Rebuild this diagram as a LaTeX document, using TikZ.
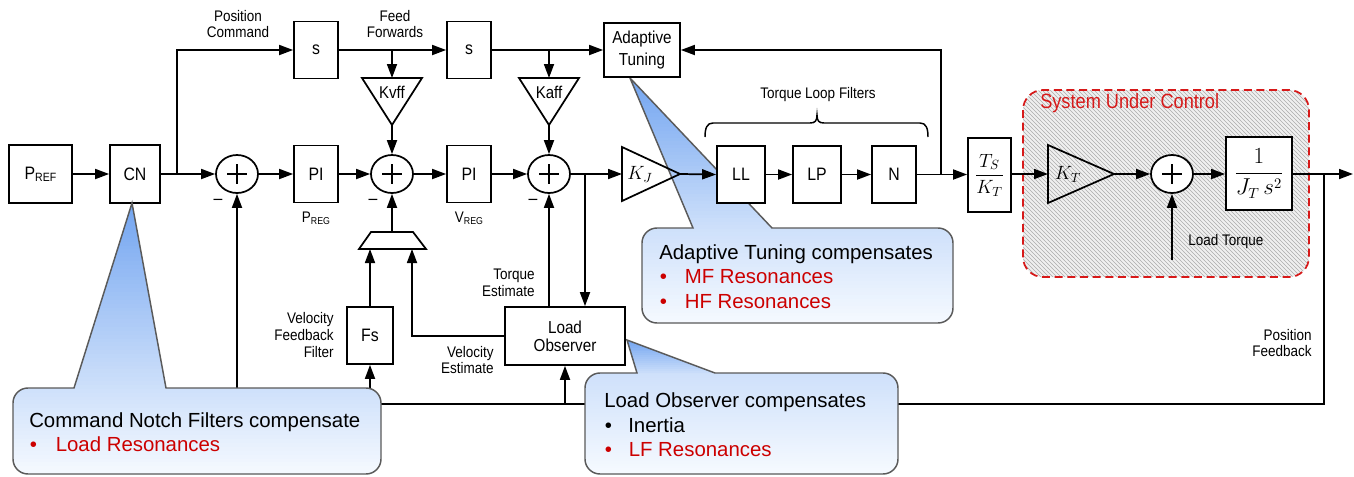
\documentclass[tikz,border=0pt]{standalone}
\usepackage{fontspec}
\setmainfont{Liberation Sans}
\newfontfamily\narrowsans[FakeStretch=0.88]{Liberation Sans}
\usetikzlibrary{arrows.meta,shapes.geometric,patterns}
\definecolor{cblue}{RGB}{115,165,240}
\definecolor{cpale}{RGB}{246,250,255}
\definecolor{cred}{RGB}{204,0,0}
\definecolor{dred}{RGB}{215,25,25}
\definecolor{cgray}{RGB}{90,90,90}
\newcommand\blkfont{\narrowsans\fontsize{13.5}{15}\selectfont}
\newcommand\lblfont{\narrowsans\fontsize{11.5}{12.4}\selectfont}
\newcommand\cofont{\fontsize{15.3}{18}\selectfont}
\newcommand\subf[2]{{\fontsize{#1}{#1}\selectfont\raisebox{-0.3ex}{#2}}}
% gradient-filled callout: #1 path, #2 tip y, #3 body top y, #4 bottom y
\newcommand\calloutshape[4]{%
  \begin{scope}
    \clip #1;
    \foreach \i in {0,...,69}{%
      \pgfmathsetmacro\ya{#2+(#4-#2)*(\i/70)}%
      \pgfmathsetmacro\yb{#2+(#4-#2)*((\i+1)/70)+0.6}%
      \pgfmathsetmacro\pa{100-70*((\ya-#2)/(#3-#2))}%
      \pgfmathsetmacro\pb{30-30*((\ya-#3)/(#4-#3))}%
      \pgfmathsetmacro\pc{\ya<#3 ? \pa : \pb}%
      \fill[cblue!\pc!cpale] (0,\ya) rectangle (1354,\yb);
    }
  \end{scope}
  \draw[cgray,line width=1.1pt] #1;
}
\begin{document}
\begin{tikzpicture}[x=0.75pt,y=-0.75pt,
  ln/.style={line width=1.3pt},
  arr/.style={line width=1.3pt,-{Triangle[length=10.5pt,width=7.5pt]}},
  blk/.style={draw,line width=1.3pt,fill=white,inner sep=0pt,font=\blkfont,align=center},
  sumj/.style={draw,ellipse,line width=1.3pt,fill=white,minimum width=31.5pt,minimum height=28.5pt,inner sep=0pt},
  lbl/.style={font=\lblfont,inner sep=0pt},
  ctext/.style={font=\cofont,anchor=base west,inner sep=0pt},
]
\fill[white] (0,0) rectangle (1354,476);
\useasboundingbox (0,0) rectangle (1354,476);

% Adaptive tuning callout (behind the diagram)
\calloutshape{(630,78) -- (772,228) -- (938,228) .. controls (946.3,228) and (953,234.7) .. (953,243) -- (953,308) .. controls (953,316.3) and (946.3,323) .. (938,323) -- (657,323) .. controls (648.7,323) and (642,316.3) .. (642,308) -- (642,243) .. controls (642,234.7) and (648.7,228) .. (657,228) -- (693,228) -- cycle}{78}{228}{323}
\node[ctext] (att) at (659,259) {Adaptive Tuning compensates};
\node[ctext,text=cred] (atb1) at (659.5,283) {•};
\node[ctext,text=cred] (atr1) at (684.5,283) {MF Resonances};
\node[ctext,text=cred] (atb2) at (659.5,308) {•};
\node[ctext,text=cred] (atr2) at (684.5,308) {HF Resonances};

% System under control area
\fill[gray!12, rounded corners=15pt] (1023,90) rectangle (1309,277);
\fill[pattern=north west lines, pattern color=gray!65, rounded corners=15pt] (1023,90) rectangle (1309,277);
\draw[dred, line width=1.3pt, dash pattern=on 6pt off 3.5pt, rounded corners=15pt] (1023,90) rectangle (1309,277);
\node[anchor=west,inner sep=0pt,text=dred,font=\narrowsans\fontsize{15.5}{17}\selectfont] (suc) at (1040,103) {System Under Control};

% blocks
\node[blk,minimum width=47.25pt,minimum height=43.5pt] (pref) at (40.5,174) {P\subf{9}{REF}};
\node[blk,minimum width=37.5pt,minimum height=43.5pt] (cn) at (135,174) {CN};
\node[blk,minimum width=33pt,minimum height=42.75pt] (s1) at (316,50) {s};
\node[blk,minimum width=33pt,minimum height=42.75pt] (pi1) at (316,174) {PI};
\node[blk,minimum width=33pt,minimum height=42.75pt] (s2) at (469,50) {s};
\node[blk,minimum width=33pt,minimum height=42.75pt] (pi2) at (469,174) {PI};
\node[blk,minimum width=57pt,minimum height=40.5pt,font=\narrowsans\fontsize{13}{16}\selectfont] (adapt) at (642,50) {Adaptive\\Tuning};
\node[blk,minimum width=36pt,minimum height=42.75pt] (ll) at (741,174.5) {LL};
\node[blk,minimum width=36pt,minimum height=42.75pt] (lp) at (817,174.5) {LP};
\node[blk,minimum width=33pt,minimum height=42.75pt] (nn) at (894,174.5) {N};
\node[blk,minimum width=32.25pt,minimum height=55.5pt,font=\fontsize{14}{16}\selectfont] (tk) at (989.5,175) {$\displaystyle\frac{T_S}{K_T}$};
\node[blk,minimum width=49.5pt,minimum height=54.75pt,font=\fontsize{16}{18}\selectfont] (jts) at (1259,173.5) {$\displaystyle\frac{1}{J_T\,s^{2}}$};
\node[blk,minimum width=34.5pt,minimum height=42.75pt] (fs) at (370,335.5) {Fs};
\node[blk,minimum width=90pt,minimum height=43.5pt,font=\narrowsans\fontsize{13}{13.5}\selectfont] (lo) at (565,336) {Load\\Observer};

% summing junctions
\node[sumj] (sa) at (237,174) {};
\node[sumj] (sb) at (392,174) {};
\node[sumj] (sc) at (549,174) {};
\node[sumj] (sd) at (1172,174) {};
\foreach \n in {sa,sb,sc,sd}
  \draw[line width=1.1pt] (\n.center) +(-10,0) -- +(10,0) +(0,-10) -- +(0,10);
\node[font=\blkfont,inner sep=0pt] (m1) at (218,202) {–};
\node[font=\blkfont,inner sep=0pt] (m2) at (373,202) {–};
\node[font=\blkfont,inner sep=0pt] (m3) at (533,202) {–};

% gain triangles
\draw[ln] (362,78) -- (422,78) -- (392,125) -- cycle;
\coordinate (kvffT) at (392,78); \coordinate (kvffB) at (392,125);
\node[inner sep=0pt,font=\narrowsans\fontsize{12.8}{14}\selectfont] (kvff) at (392,92) {Kvff};
\draw[ln] (519,78) -- (579,78) -- (549,125) -- cycle;
\coordinate (kaffT) at (549,78); \coordinate (kaffB) at (549,125);
\node[inner sep=0pt,font=\narrowsans\fontsize{12.8}{14}\selectfont] (kaff) at (549,92) {Kaff};
\draw[ln] (622,147) -- (622,201) -- (680,174) -- cycle;
\coordinate (kjIn) at (622,174); \coordinate (kjOut) at (680,174);
\node[inner sep=0pt,font=\fontsize{14}{16}\selectfont] (kj) at (640,174) {$K_J$};
\draw[ln] (1048,145) -- (1048,203) -- (1114,174) -- cycle;
\coordinate (ktIn) at (1048,174); \coordinate (ktOut) at (1114,174);
\node[inner sep=0pt,font=\fontsize{14}{16}\selectfont] (kt) at (1068,174) {$K_T$};

% trapezoid (selector)
\draw[ln] (359,249) -- (426,249) -- (413,232) -- (371,232) -- cycle;
\coordinate (trIn1) at (370,249); \coordinate (trIn2) at (412,249); \coordinate (trOut) at (392,232);

% bracket
\draw[line width=1.1pt] (705,137) .. controls (705,128) and (707,123) .. (713,123) -- (810,123) .. controls (815,123) and (817,121) .. (817,115) .. controls (817,121) and (819,123) .. (824,123) -- (920,123) .. controls (926,123) and (928,128) .. (928,137);

% connectors
\coordinate (br1) at (177,174);
\coordinate (b2) at (392,50);
\coordinate (b3) at (549,50);
\coordinate (loIn) at (585,174);
\coordinate (atb) at (941,174);
\coordinate (fbR) at (1324,174);
\coordinate (fbB) at (1324,404);
\coordinate (fbL) at (237,404);
\coordinate (fbFs) at (370,404);
\coordinate (fbLo) at (565,404);
\coordinate (outE) at (1353,174);
\coordinate (ltq) at (1172,260);

\draw[arr] (pref) -- (cn);
\draw[arr] (cn.east) -- (sa.west);
\draw[arr] (br1) |- (s1.west);
\draw[arr] (sa.east) -- (pi1.west);
\draw[arr] (pi1.east) -- (sb.west);
\draw[arr] (sb.east) -- (pi2.west);
\draw[arr] (pi2.east) -- (sc.west);
\draw[arr] (sc.east) -- (kjIn);
\draw[arr] (kjOut) -- (ll.west);
\draw[arr] (ll) -- (lp);
\draw[arr] (lp) -- (nn);
\draw[arr] (nn.east) -- (tk.west |- nn.east);
\draw[arr] (atb) |- (adapt.east);
\draw[arr] (s1) -- (s2);
\draw[arr] (s2.east) -- (adapt.west |- s2.east);
\draw[arr] (b2) -- (kvffT);
\draw[arr] (kvffB) -- (sb.north);
\draw[arr] (b3) -- (kaffT);
\draw[arr] (kaffB) -- (sc.north);
\draw[arr] (tk.east |- ktIn) -- (ktIn);
\draw[arr] (ktOut) -- (sd.west);
\draw[arr] (sd.east) -- (jts.west |- sd.east);
\draw[arr] (jts.east |- outE) -- (outE);
\draw[arr] (ltq) -- (sd.south);
\draw[ln] (fbR) -- (fbB) -- (fbL);
\draw[arr] (fbL) -- (sa.south);
\draw[arr] (fbFs) -- (fs.south);
\draw[arr] (fbLo) -- (lo.south);
\draw[arr] (fs.north) -- (trIn1);
\draw[arr] (lo.west) -| (trIn2);
\draw[arr] (trOut) -- (sb.south);
\draw[arr] (loIn) -- (loIn |- lo.north);
\draw[arr] (lo.north -| sc) -- (sc.south);

% labels
\node[lbl,align=center] (poscmd) at (238,24) {Position\\Command};
\node[lbl,align=center] (ffwd) at (395,24) {Feed\\Forwards};
\node[lbl] (preg) at (316,218) {P\subf{7.5}{REG}};
\node[lbl] (vreg) at (469,218) {V\subf{7.5}{REG}};
\node[lbl] (tlf) at (818,95) {Torque Loop Filters};
\node[lbl,align=right,anchor=east] (test) at (535,283) {Torque\\Estimate};
\node[lbl,align=right,anchor=east] (vff) at (334,335) {Velocity\\Feedback\\Filter};
\node[lbl,align=right,anchor=east] (vest) at (494,360) {Velocity\\Estimate};
\node[lbl,anchor=west] (ldt) at (1188,242) {Load Torque};
\node[lbl,align=right,anchor=east] (pfb) at (1312,343) {Position\\Feedback};

% Command notch callout
\calloutshape{(132,203) -- (166,388) -- (366,388) .. controls (374.3,388) and (381,394.7) .. (381,403) -- (381,459) .. controls (381,467.3) and (374.3,474) .. (366,474) -- (28,474) .. controls (19.7,474) and (13,467.3) .. (13,459) -- (13,403) .. controls (13,394.7) and (19.7,388) .. (28,388) -- (74,388) -- cycle}{203}{388}{474}
\node[ctext] (cnt) at (29,427) {Command Notch Filters compensate};
\node[ctext,text=cred] (cnb) at (29.5,451) {•};
\node[ctext,text=cred] (cnr) at (55.5,451) {Load Resonances};

% Load observer callout
\calloutshape{(627,340) -- (715,373) -- (883,373) .. controls (891.3,373) and (898,379.7) .. (898,388) -- (898,459) .. controls (898,467.3) and (891.3,474) .. (883,474) -- (600,474) .. controls (591.7,474) and (585,467.3) .. (585,459) -- (585,388) .. controls (585,379.7) and (591.7,373) .. (600,373) -- (637,373) -- cycle}{340}{373}{474}
\node[ctext] (lot) at (604,407) {Load Observer compensates};
\node[ctext] (lob1) at (604.5,432) {•};
\node[ctext] (lor1) at (628,432) {Inertia};
\node[ctext,text=cred] (lob2) at (604.5,456) {•};
\node[ctext,text=cred] (lor2) at (628.5,456) {LF Resonances};
\end{tikzpicture}
\end{document}
